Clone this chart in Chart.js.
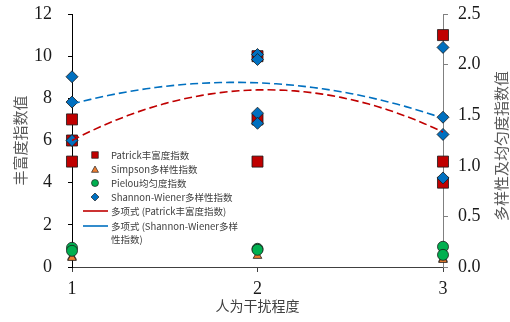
<!DOCTYPE html>
<html>
<head>
<meta charset="utf-8">
<script src="https://cdn.jsdelivr.net/npm/chart.js@4.4.0/dist/chart.umd.min.js"></script>
<style>
  html, body { margin: 0; padding: 0; background: #fff; }
  #wrap { width: 510px; height: 322px; }
</style>
</head>
<body>
<div id="wrap"><canvas id="chart" width="510" height="322"></canvas></div>
<script>
// disturbance levels
const levels = [1, 2, 3];

// Patrick richness (left axis)
const patrickX = [1, 1, 1, 2, 2, 2, 3, 3, 3];
const patrickY = [7, 6, 5, 10, 7, 5, 11, 5, 4];

// Shannon-Wiener diversity (right axis)
const shannonX = [1, 1, 1, 2, 2, 2, 2, 3, 3, 3, 3];
const shannonY = [1.88, 1.63, 1.25, 2.10, 2.05, 1.52, 1.42, 2.17, 1.48, 1.31, 0.88];

// Pielou evenness and Simpson diversity (right axis)
const pielouX = [1, 1, 2, 2, 3, 3];
const pielouY = [0.19, 0.16, 0.18, 0.17, 0.20, 0.12];
const simpsonX = [1, 1, 2, 3, 3];
const simpsonY = [0.10, 0.09, 0.11, 0.08, 0.07];

// quadratic trend values at x = 1, 2, 3
const patrickFitAt = [6.0, 8.4, 6.4];
const shannonFitAt = [1.61, 1.82, 1.47];

const leftMax = 12, leftStep = 2;
const rightMax = 2.5, rightStep = 0.5;

const RED = '#C00000';
const BLUE = '#0070C0';
const GREEN = '#00B050';
const ORANGE = '#ED7D31';
const CJK = '"Noto Sans CJK SC", "Noto Sans", sans-serif';
const SERIF = '"Liberation Serif", "DejaVu Serif", serif';

function pairs(xs, ys) {
  return xs.map((x, i) => ({ x: x, y: ys[i] }));
}

// quadratic through the three fitted values, sampled for a smooth line
function trend(v) {
  const a = (v[0] - 2 * v[1] + v[2]) / 2;
  const b = (v[1] - v[0]) - 3 * a;
  const c = v[0] - a - b;
  const pts = [];
  for (let i = 0; i <= 40; i++) {
    const x = levels[0] + i * (levels[2] - levels[0]) / 40;
    pts.push({ x: x, y: a * x * x + b * x + c });
  }
  return pts;
}

function marker(ctx, style, x, y, r, fill) {
  ctx.beginPath();
  if (style === 'rect') {
    ctx.rect(x - r, y - r, 2 * r, 2 * r);
  } else if (style === 'diamond') {
    ctx.moveTo(x, y - r); ctx.lineTo(x + r, y); ctx.lineTo(x, y + r); ctx.lineTo(x - r, y); ctx.closePath();
  } else if (style === 'circle') {
    ctx.arc(x, y, r, 0, Math.PI * 2);
  } else {
    ctx.moveTo(x, y - r); ctx.lineTo(x + r, y + r * 0.8); ctx.lineTo(x - r, y + r * 0.8); ctx.closePath();
  }
  ctx.fillStyle = fill;
  ctx.fill();
  ctx.lineWidth = 0.7;
  ctx.strokeStyle = '#222';
  ctx.stroke();
}

const legendRows = [
  { kind: 'rect', color: RED, text: ['Patrick丰富度指数'] },
  { kind: 'triangle', color: ORANGE, text: ['Simpson多样性指数'] },
  { kind: 'circle', color: GREEN, text: ['Pielou均匀度指数'] },
  { kind: 'diamond', color: BLUE, text: ['Shannon-Wiener多样性指数'] },
  { kind: 'line', color: RED, text: ['多项式 (Patrick丰富度指数)'] },
  { kind: 'line', color: BLUE, text: ['多项式 (Shannon-Wiener多样', '性指数)'] }
];
const legendY = [155, 169.5, 183, 197, 211, 226];

const extras = {
  id: 'extras',
  afterDraw(chart) {
    const ctx = chart.ctx;
    ctx.save();
    // legend inside the plot
    ctx.font = '9.5px ' + CJK;
    ctx.textBaseline = 'middle';
    ctx.textAlign = 'left';
    legendRows.forEach((row, i) => {
      const y = legendY[i];
      if (row.kind === 'line') {
        ctx.beginPath();
        ctx.moveTo(83, y); ctx.lineTo(108, y);
        ctx.strokeStyle = row.color; ctx.lineWidth = 1.6;
        ctx.stroke();
      } else {
        const r = row.kind === 'diamond' ? 4 : (row.kind === 'rect' ? 3.3 : 3.5);
        marker(ctx, row.kind, 95, y, r, row.color);
      }
      ctx.fillStyle = '#404040';
      row.text.forEach((t, k) => ctx.fillText(t, 111, y + k * 13));
    });
    // right axis title, read bottom to top
    ctx.translate(501, 146);
    ctx.rotate(-Math.PI / 2);
    ctx.textAlign = 'center';
    ctx.font = '15px ' + CJK;
    ctx.fillStyle = '#595959';
    ctx.fillText('多样性及均匀度指数值', 0, 0);
    ctx.restore();
  }
};

const tickFont = { family: SERIF, size: 18 };

// the wide label gap on the left axis must not push the plot area down
function fixVertical(width) {
  return s => {
    s.width = width;
    s.paddingTop = 0;
    s.paddingBottom = 0;
  };
}

new Chart(document.getElementById('chart'), {
  type: 'scatter',
  data: {
    datasets: [
      { type: 'line', data: trend(patrickFitAt), yAxisID: 'y', borderColor: RED, borderWidth: 1.6,
        borderDash: [8, 4], pointRadius: 0, fill: false, order: 0, clip: false },
      { type: 'line', data: trend(shannonFitAt), yAxisID: 'y1', borderColor: BLUE, borderWidth: 1.6,
        borderDash: [8, 4], pointRadius: 0, fill: false, order: 0, clip: false },
      { data: pairs(shannonX, shannonY), yAxisID: 'y1', pointStyle: 'rectRot', pointRadius: 6,
        backgroundColor: BLUE, borderColor: '#1a1a1a', borderWidth: 0.8, order: 1, clip: false },
      { data: pairs(pielouX, pielouY), yAxisID: 'y1', pointStyle: 'circle', pointRadius: 5.5,
        backgroundColor: GREEN, borderColor: '#1a1a1a', borderWidth: 0.8, order: 2, clip: false },
      { data: pairs(simpsonX, simpsonY), yAxisID: 'y1', pointStyle: 'triangle', pointRadius: 5,
        backgroundColor: ORANGE, borderColor: '#1a1a1a', borderWidth: 0.8, order: 3, clip: false },
      { data: pairs(patrickX, patrickY), yAxisID: 'y', pointStyle: 'rect', pointRadius: 7.8,
        backgroundColor: RED, borderColor: '#1a1a1a', borderWidth: 0.8, order: 4, clip: false }
    ]
  },
  options: {
    responsive: false,
    animation: false,
    layout: { padding: { top: 14, left: 0, right: 0, bottom: 0 } },
    plugins: { legend: { display: false }, tooltip: { enabled: false } },
    scales: {
      x: {
        type: 'linear', min: levels[0], max: levels[2],
        ticks: { stepSize: 1, font: tickFont, color: '#1a1a1a', padding: 6 },
        grid: { drawOnChartArea: false, tickLength: 5, color: '#404040' },
        border: { color: '#404040', width: 1 },
        title: { display: true, text: '人为干扰程度', color: '#404040',
                 font: { family: CJK, size: 14 }, padding: { top: 0, bottom: 8 } },
        afterFit(s) { s.height = 55; s.paddingLeft = 0; s.paddingRight = 0; }
      },
      y: {
        position: 'left', min: 0, max: leftMax,
        ticks: { stepSize: leftStep, font: tickFont, color: '#1a1a1a', padding: 16 },
        grid: { drawOnChartArea: false, tickLength: 4, color: '#000' },
        border: { color: '#000', width: 1 },
        title: { display: true, text: '丰富度指数值', color: '#595959',
                 font: { family: CJK, size: 15 }, padding: { top: 11, bottom: 0 } },
        afterFit: fixVertical(72)
      },
      y1: {
        position: 'right', min: 0, max: rightMax,
        ticks: { stepSize: rightStep, font: tickFont, color: '#1a1a1a', padding: 10,
                 callback: v => v.toFixed(1) },
        grid: { drawOnChartArea: false, tickLength: 5, color: '#808080' },
        border: { color: '#808080', width: 1 },
        afterFit: fixVertical(67)
      }
    }
  },
  plugins: [extras]
});
</script>
</body>
</html>
